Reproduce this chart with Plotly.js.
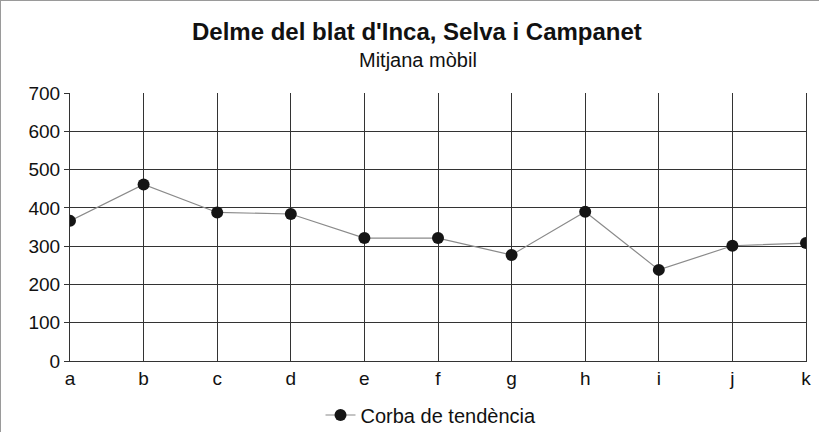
<!DOCTYPE html>
<html>
<head>
<meta charset="utf-8">
<script src="https://cdn.plot.ly/plotly-3.0.1.min.js"></script>
<style>
html,body{margin:0;padding:0;background:#fff;}
#chart{width:819px;height:432px;box-sizing:border-box;border:1px solid #9a9a9a;}
</style>
</head>
<body>
<div id="chart"></div>
<script>
const categories = ['a','b','c','d','e','f','g','h','i','j','k'];
const values = [366, 461, 388, 384, 321, 321, 277, 390, 238, 301, 308];
const yTicks = [0,100,200,300,400,500,600,700];
const seriesName = 'Corba de tendència';
const titleText = "Delme del blat d'Inca, Selva i Campanet";
const subtitleText = 'Mitjana mòbil';

const trace = {
  x: categories,
  y: values,
  type: 'scatter',
  mode: 'lines+markers',
  name: seriesName,
  line: {color: '#8a8a8a', width: 1.2},
  marker: {color: '#151515', size: 12, symbol: 'circle'}
};

const W = 819, H = 432, mT = 92, mB = 72, mL = 69, mR = 14;
const plotH = H - mT - mB;
const py = p => (H - mB - p) / plotH;
const px = p => (p - mL) / (W - mL - mR);

const layout = {
  width: W, height: H,
  margin: {l: mL, r: mR, t: mT, b: mB, autoexpand: false},
  paper_bgcolor: '#fff', plot_bgcolor: '#fff',
  font: {family: 'Liberation Sans, Arial, sans-serif', color: '#111', size: 19},
  xaxis: {
    type: 'category', range: [0, 10], showgrid: true, gridcolor: '#333', gridwidth: 1,
    showline: true, linecolor: '#333', ticks: 'inside', ticklen: 4, tickcolor: '#333',
    zeroline: false, tickfont: {size: 19}, ticklabelstandoff: 0, automargin: false
  },
  yaxis: {
    range: [0, 700], tickvals: yTicks, showgrid: true, gridcolor: '#333', gridwidth: 1,
    showline: true, linecolor: '#333', ticks: 'outside', ticklen: 5, tickcolor: '#333',
    zeroline: false, tickfont: {size: 19}, mirror: true, automargin: false
  },
  annotations: [
    {text: '<b>' + titleText + '</b>', xref: 'paper', yref: 'paper', x: px(416), y: py(30),
     xanchor: 'center', yanchor: 'middle', showarrow: false, font: {size: 24, color: '#111'}},
    {text: subtitleText, xref: 'paper', yref: 'paper', x: px(417), y: py(59),
     xanchor: 'center', yanchor: 'middle', showarrow: false, font: {size: 20, color: '#111'}}
  ],
  showlegend: true,
  legend: {orientation: 'h', xref: 'container', yref: 'container',
           x: 430 / W, xanchor: 'center', y: 1 - 414 / H, yanchor: 'middle',
           font: {size: 20}}
};

Plotly.newPlot('chart', [trace], layout, {displayModeBar: false, staticPlot: true});
</script>
</body>
</html>
